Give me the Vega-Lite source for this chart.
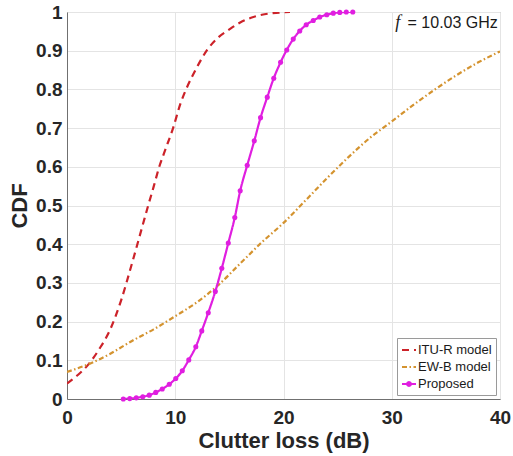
{
  "$schema": "https://vega.github.io/schema/vega-lite/v6.json",
  "width": 433,
  "height": 387,
  "autosize": {"type": "none"},
  "padding": {"left": 67, "top": 12, "right": 13, "bottom": 57},
  "background": "white",
  "config": {
    "font": "Liberation Sans",
    "view": {"stroke": "#a0a0a0", "strokeWidth": 1},
    "axis": {
      "grid": true,
      "gridColor": "#e4e4e4",
      "gridWidth": 1,
      "domainColor": "#707070",
      "ticks": false,
      "labelOverlap": false,
      "labelFlush": false,
      "labelFont": "Liberation Sans",
      "labelFontWeight": "bold",
      "labelFontSize": 19,
      "labelColor": "#262626",
      "titleFont": "Liberation Sans",
      "titleFontWeight": "bold",
      "titleFontSize": 22,
      "titleColor": "#262626"
    },
    "axisX": {"labelPadding": 9, "titlePadding": 3, "tickCount": 5},
    "axisY": {"labelPadding": 5, "titlePadding": 4, "tickCount": 11}
  },
  "datasets": {
    "curves": [
      {"series": "ITU-R model", "x": 0, "y": 0.04},
      {"series": "ITU-R model", "x": 1, "y": 0.062},
      {"series": "ITU-R model", "x": 2, "y": 0.09},
      {"series": "ITU-R model", "x": 3, "y": 0.13},
      {"series": "ITU-R model", "x": 4, "y": 0.18},
      {"series": "ITU-R model", "x": 5, "y": 0.255},
      {"series": "ITU-R model", "x": 6, "y": 0.35},
      {"series": "ITU-R model", "x": 7, "y": 0.45},
      {"series": "ITU-R model", "x": 7.5, "y": 0.5},
      {"series": "ITU-R model", "x": 8, "y": 0.548},
      {"series": "ITU-R model", "x": 8.5, "y": 0.598},
      {"series": "ITU-R model", "x": 9, "y": 0.638},
      {"series": "ITU-R model", "x": 9.8, "y": 0.7},
      {"series": "ITU-R model", "x": 10.5, "y": 0.765},
      {"series": "ITU-R model", "x": 11, "y": 0.8},
      {"series": "ITU-R model", "x": 12, "y": 0.857},
      {"series": "ITU-R model", "x": 12.9, "y": 0.9},
      {"series": "ITU-R model", "x": 14, "y": 0.935},
      {"series": "ITU-R model", "x": 15, "y": 0.955},
      {"series": "ITU-R model", "x": 16, "y": 0.973},
      {"series": "ITU-R model", "x": 17, "y": 0.985},
      {"series": "ITU-R model", "x": 18, "y": 0.993},
      {"series": "ITU-R model", "x": 19, "y": 0.997},
      {"series": "ITU-R model", "x": 20.6, "y": 1.0},
      {"series": "EW-B model", "x": 0, "y": 0.07},
      {"series": "EW-B model", "x": 2, "y": 0.09},
      {"series": "EW-B model", "x": 4, "y": 0.117},
      {"series": "EW-B model", "x": 6, "y": 0.15},
      {"series": "EW-B model", "x": 8, "y": 0.18},
      {"series": "EW-B model", "x": 10, "y": 0.214},
      {"series": "EW-B model", "x": 12, "y": 0.25},
      {"series": "EW-B model", "x": 14, "y": 0.295},
      {"series": "EW-B model", "x": 16, "y": 0.35},
      {"series": "EW-B model", "x": 18, "y": 0.405},
      {"series": "EW-B model", "x": 20, "y": 0.455},
      {"series": "EW-B model", "x": 22, "y": 0.512},
      {"series": "EW-B model", "x": 24, "y": 0.57},
      {"series": "EW-B model", "x": 26, "y": 0.625},
      {"series": "EW-B model", "x": 28, "y": 0.675},
      {"series": "EW-B model", "x": 30, "y": 0.717},
      {"series": "EW-B model", "x": 32, "y": 0.76},
      {"series": "EW-B model", "x": 34, "y": 0.8},
      {"series": "EW-B model", "x": 36, "y": 0.837},
      {"series": "EW-B model", "x": 38, "y": 0.87},
      {"series": "EW-B model", "x": 40, "y": 0.898},
      {"series": "Proposed", "x": 5.2, "y": 0.0},
      {"series": "Proposed", "x": 5.8, "y": 0.001},
      {"series": "Proposed", "x": 6.4, "y": 0.003},
      {"series": "Proposed", "x": 7.0, "y": 0.006},
      {"series": "Proposed", "x": 7.6, "y": 0.01},
      {"series": "Proposed", "x": 8.2, "y": 0.017},
      {"series": "Proposed", "x": 8.8, "y": 0.026},
      {"series": "Proposed", "x": 9.45, "y": 0.038},
      {"series": "Proposed", "x": 10.05, "y": 0.053},
      {"series": "Proposed", "x": 10.65, "y": 0.073},
      {"series": "Proposed", "x": 11.25, "y": 0.101},
      {"series": "Proposed", "x": 11.9, "y": 0.135},
      {"series": "Proposed", "x": 12.45, "y": 0.176},
      {"series": "Proposed", "x": 13.05, "y": 0.223},
      {"series": "Proposed", "x": 13.7, "y": 0.278},
      {"series": "Proposed", "x": 14.3, "y": 0.338},
      {"series": "Proposed", "x": 14.9, "y": 0.403},
      {"series": "Proposed", "x": 15.5, "y": 0.469},
      {"series": "Proposed", "x": 16.0, "y": 0.538},
      {"series": "Proposed", "x": 16.65, "y": 0.604},
      {"series": "Proposed", "x": 17.3, "y": 0.667},
      {"series": "Proposed", "x": 17.88, "y": 0.727},
      {"series": "Proposed", "x": 18.5, "y": 0.78},
      {"series": "Proposed", "x": 19.1, "y": 0.829},
      {"series": "Proposed", "x": 19.73, "y": 0.87},
      {"series": "Proposed", "x": 20.3, "y": 0.902},
      {"series": "Proposed", "x": 20.9, "y": 0.93},
      {"series": "Proposed", "x": 21.5, "y": 0.951},
      {"series": "Proposed", "x": 22.1, "y": 0.967},
      {"series": "Proposed", "x": 22.75, "y": 0.978},
      {"series": "Proposed", "x": 23.35, "y": 0.987},
      {"series": "Proposed", "x": 24.0, "y": 0.993},
      {"series": "Proposed", "x": 24.6, "y": 0.997},
      {"series": "Proposed", "x": 25.2, "y": 0.999},
      {"series": "Proposed", "x": 25.8, "y": 1.0},
      {"series": "Proposed", "x": 26.4, "y": 1.0}
    ]
  },
  "layer": [
    {
      "data": {"name": "curves"},
      "mark": {"type": "line", "strokeWidth": 2.2, "clip": true, "interpolate": "monotone"},
      "encoding": {
        "x": {
          "field": "x", "type": "quantitative",
          "scale": {"domain": [0, 40], "nice": false, "zero": false},
          "axis": {"values": [0, 10, 20, 30, 40], "title": "Clutter loss (dB)"}
        },
        "y": {
          "field": "y", "type": "quantitative",
          "scale": {"domain": [0, 1], "nice": false},
          "axis": {"values": [0, 0.1, 0.2, 0.3, 0.4, 0.5, 0.6, 0.7, 0.8, 0.9, 1], "format": "~g", "title": "CDF"}
        },
        "color": {
          "field": "series", "type": "nominal",
          "scale": {"domain": ["ITU-R model", "EW-B model", "Proposed"], "range": ["#CC2229", "#D4932F", "#E01EE0"]},
          "legend": {
            "title": null,
            "orient": "bottom-right",
            "offset": 4,
            "fillColor": "white",
            "strokeColor": "#9a9a9a",
            "padding": 4,
            "labelFont": "Liberation Sans",
            "labelFontSize": 13,
            "labelColor": "#1a1a1a",
            "labelOffset": 1,
            "rowPadding": 2,
            "symbolType": "stroke",
            "symbolSize": 196,
            "symbolStrokeWidth": 2,
            "encode": {
              "symbols": {
                "update": {
                  "shape": {"signal": "datum.value === 'Proposed' ? 'M-1,0L1,0M-0.28,0A0.28,0.28,0,1,1,0.28,0A0.28,0.28,0,1,1,-0.28,0Z' : 'stroke'"},
                  "fill": {"signal": "datum.value === 'Proposed' ? '#E01EE0' : 'transparent'"}
                }
              }
            }
          }
        },
        "strokeDash": {
          "field": "series", "type": "nominal",
          "scale": {"domain": ["ITU-R model", "EW-B model", "Proposed"], "range": [[7, 5], [5, 2.5, 1.5, 2.5], [1, 0]]},
          "legend": null
        }
      }
    },
    {
      "data": {"name": "curves"},
      "transform": [{"filter": "datum.series === 'Proposed'"}],
      "mark": {"type": "point", "filled": true, "size": 26, "opacity": 1, "color": "#E01EE0"},
      "encoding": {
        "x": {"field": "x", "type": "quantitative", "axis": {"values": [0, 10, 20, 30, 40], "title": "Clutter loss (dB)"}},
        "y": {"field": "y", "type": "quantitative", "axis": {"values": [0, 0.1, 0.2, 0.3, 0.4, 0.5, 0.6, 0.7, 0.8, 0.9, 1], "format": "~g", "title": "CDF"}}
      }
    },
    {
      "data": {"values": [{"label": "= 10.03 GHz"}]},
      "mark": {"type": "text", "align": "right", "baseline": "middle", "font": "Liberation Sans", "fontSize": 16, "color": "#1a1a1a"},
      "encoding": {
        "x": {"datum": 39.8, "type": "quantitative", "axis": {"values": [0, 10, 20, 30, 40], "title": "Clutter loss (dB)"}},
        "y": {"datum": 0.972, "type": "quantitative", "axis": {"values": [0, 0.1, 0.2, 0.3, 0.4, 0.5, 0.6, 0.7, 0.8, 0.9, 1], "format": "~g", "title": "CDF"}},
        "text": {"field": "label"}
      }
    },
    {
      "data": {"values": [{"label": "f"}]},
      "mark": {"type": "text", "align": "center", "baseline": "middle", "font": "Liberation Serif", "fontStyle": "italic", "fontSize": 18, "color": "#1a1a1a"},
      "encoding": {
        "x": {"datum": 30.55, "type": "quantitative", "axis": {"values": [0, 10, 20, 30, 40], "title": "Clutter loss (dB)"}},
        "y": {"datum": 0.972, "type": "quantitative", "axis": {"values": [0, 0.1, 0.2, 0.3, 0.4, 0.5, 0.6, 0.7, 0.8, 0.9, 1], "format": "~g", "title": "CDF"}},
        "text": {"field": "label"}
      }
    }
  ]
}
